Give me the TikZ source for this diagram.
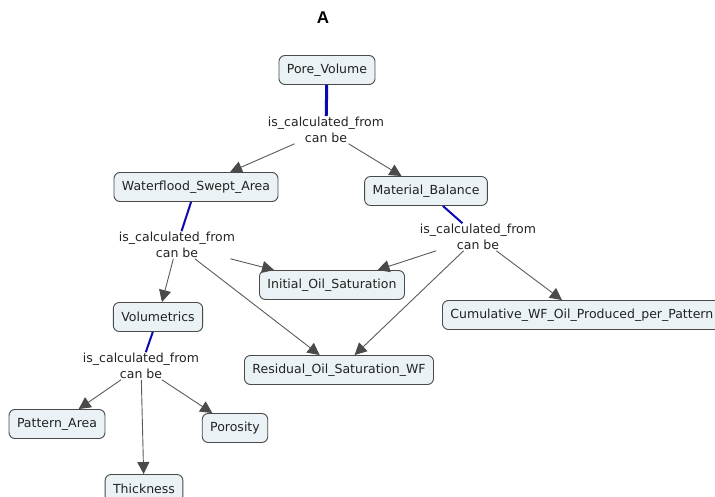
\documentclass[tikz,border=0pt]{standalone}
\usepackage{fontspec}
\setmainfont{DejaVu Sans}
\newfontfamily\titlefont{Liberation Sans}
\usetikzlibrary{arrows.meta}
\definecolor{cfill}{HTML}{EAF2F5}
\definecolor{cline}{HTML}{4A4A4A}
\definecolor{lblue}{HTML}{0A0AB0}
\definecolor{agray}{HTML}{5A5A5A}
\definecolor{txt}{HTML}{222222}

\begin{document}
\begin{tikzpicture}[x=1pt,y=-1pt,
  concept/.style={draw=cline,fill=cfill,rounded corners=6pt,line width=0.9pt,minimum height=29pt,inner xsep=8pt,text=txt,font=\fontsize{12.5}{15}\selectfont},
  phrase/.style={align=center,inner sep=1pt,text=txt,font=\fontsize{12.5}{15.5}\selectfont},
  tie/.style={draw=lblue,line width=2pt},
  arr/.style={draw=agray,line width=0.9pt,-{Triangle[length=12pt,width=12pt,color=cline]}}]
\useasboundingbox (0,0) rectangle (715,497);
\node[font=\titlefont\bfseries\fontsize{17}{20}\selectfont,text=black] (title) at (323,18) {A};
\node[concept] (pv) at (327,70) {Pore\_Volume};
\node[concept] (wf) at (196,187) {Waterflood\_Swept\_Area};
\node[concept] (mb) at (426,191) {Material\_Balance};
\node[concept] (init) at (332,285) {Initial\_Oil\_Saturation};
\node[concept,anchor=west] (cum) at (442,315) {Cumulative\_WF\_Oil\_Produced\_per\_Pattern};
\node[concept] (res) at (339,370) {Residual\_Oil\_Saturation\_WF};
\node[concept] (vol) at (158,317) {Volumetrics};
\node[concept] (pa) at (57,424) {Pattern\_Area};
\node[concept] (por) at (235,428) {Porosity};
\node[concept] (thick) at (144,489) {Thickness};
\node[phrase] (l1) at (326,130) {is\_calculated\_from\\can be};
\node[phrase] (l2) at (177,245) {is\_calculated\_from\\can be};
\node[phrase] (l3) at (478,237) {is\_calculated\_from\\can be};
\node[phrase] (l4) at (141,366) {is\_calculated\_from\\can be};
\draw[tie,line width=3pt] (pv) -- (l1);
\draw[tie] (wf) -- (l2);
\draw[tie] (mb) -- (l3);
\draw[tie] (vol) -- (l4);
\foreach \a/\b in {l1/wf,l1/mb,l2/vol,l2/init,l2/res,l3/init,l3/res,l3/cum,l4/pa,l4/thick,l4/por}
  \draw[arr] (\a) -- (\b);
\end{tikzpicture}
\end{document}
